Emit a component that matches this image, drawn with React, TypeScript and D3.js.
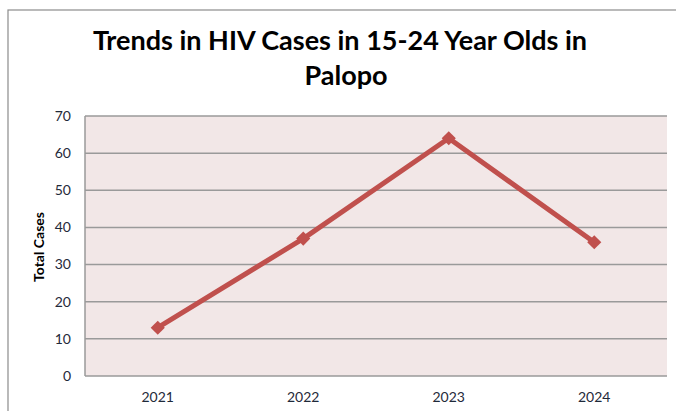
import React from "react";
import * as d3 from "d3";

const years = ["2021", "2022", "2023", "2024"];
const cases = [13, 37, 64, 36];
const yTicks = [0, 10, 20, 30, 40, 50, 60, 70];
const titleLines = ["Trends in HIV Cases in 15-24 Year Olds in", "Palopo"];
const yLabel = "Total Cases";

const W = 676;
const H = 411;
const plot = { left: 85, right: 667, top: 116, bottom: 376 };

export default function App() {
  const x = d3.scaleBand<string>().domain(years).range([plot.left, plot.right]);
  const y = d3.scaleLinear().domain([0, 70]).range([plot.bottom, plot.top]);
  const cx = (d: string) => (x(d) ?? 0) + x.bandwidth() / 2;
  const line = d3
    .line<number>()
    .x((_, i) => cx(years[i]))
    .y((d) => y(d));
  // Excel-style diamond marker: a square turned 45 degrees
  const marker = d3.symbol(d3.symbolSquare, 100)();
  const font = "Lato, 'Open Sans', sans-serif";
  // the first title line is centred with its trailing space, so its glyphs sit a little left
  const titleX = [340, 346];

  return (
    <svg
      width={W}
      height={H}
      style={{ position: "absolute", left: 0, top: 0, background: "#fff" }}
    >
      <rect x={8} y={10} width={W + 10} height={H + 10} fill="#fff" stroke="#8c8c8c" strokeWidth={1.2} />
      {titleLines.map((t, i) => (
        <text
          key={i}
          x={titleX[i]}
          y={50 + i * 35}
          textAnchor="middle"
          fontFamily={font}
          fontWeight={700}
          fontSize={27}
          fill="#000"
        >
          {t}
        </text>
      ))}
      <rect
        x={plot.left}
        y={plot.top}
        width={plot.right - plot.left}
        height={plot.bottom - plot.top}
        fill="#f2e7e7"
      />
      {yTicks.map((t) => (
        <g key={t}>
          <line
            x1={plot.left}
            x2={plot.right}
            y1={y(t)}
            y2={y(t)}
            stroke="#9a9a9a"
            strokeWidth={1.5}
          />
          <text
            x={71}
            y={y(t)}
            dy="0.35em"
            textAnchor="end"
            fontFamily={font}
            fontSize={14}
            fill="#1f2a3a"
          >
            {t}
          </text>
        </g>
      ))}
      <line x1={plot.left} x2={plot.left} y1={plot.top} y2={plot.bottom} stroke="#9a9a9a" strokeWidth={1.5} />
      {years.map((yr) => (
        <text
          key={yr}
          x={cx(yr)}
          y={402}
          textAnchor="middle"
          fontFamily={font}
          fontSize={14}
          fill="#1f2a3a"
        >
          {yr}
        </text>
      ))}
      <text
        transform={`translate(44,247) rotate(-90)`}
        textAnchor="middle"
        fontFamily={font}
        fontWeight={700}
        fontSize={14}
        fill="#000"
      >
        {yLabel}
      </text>
      <path d={line(cases) ?? ""} fill="none" stroke="#c0504d" strokeWidth={5} strokeLinejoin="round" />
      {cases.map((v, i) => (
        <path
          key={i}
          d={marker ?? ""}
          transform={`translate(${cx(years[i])},${y(v)}) rotate(45)`}
          fill="#c0504d"
        />
      ))}
    </svg>
  );
}
